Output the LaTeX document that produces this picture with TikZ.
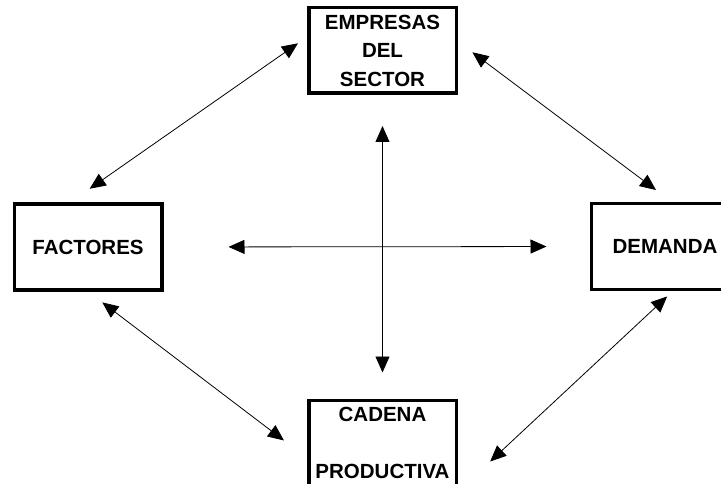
\documentclass[tikz,border=0pt]{standalone}
\usepackage{fontspec}
\setmainfont{Liberation Sans}
\usetikzlibrary{arrows.meta}

\begin{document}
\begin{tikzpicture}[<->,>={Triangle[length=16pt,width=14pt]},thick,x=1pt,y=-1pt,
    main box/.style={draw,line width=3.5pt,align=center,inner sep=0pt,minimum width=147.5pt,minimum height=85.5pt,font=\bfseries\fontsize{20.5}{28.5}\selectfont}]
            \useasboundingbox (0,0) rectangle (721,484);
            \clip (0,0) rectangle (721,484);

            \node[main box] (empresas) at (382.5,50.5) {EMPRESAS\\DEL\\SECTOR};
            \node[main box] (factores) at (88,247) {FACTORES};
            \node[main box] (demanda) at (665,246.5) {DEMANDA};
            \node[main box] (cadena) at (382.5,443) {CADENA\\ \\PRODUCTIVA};

            \draw[shorten <=24pt,shorten >=11pt] ([xshift=-18pt]factores.north) -- ([yshift=13.5pt]empresas.west);
            \draw[shorten <=18pt,shorten >=20pt] ([yshift=9pt]empresas.east) -- ([xshift=7pt]demanda.north);
            \draw[shorten <=18pt,shorten >=29pt] (factores.south) -- ([yshift=-15pt]cadena.west);
            \draw[shorten <=8pt,shorten >=44pt] ([xshift=8pt]demanda.south) -- ([yshift=-4pt]cadena.south east);
            \draw[shorten <=31pt,shorten >=26pt] (empresas.south) -- (cadena.north);
            \draw[shorten <=65pt,shorten >=43pt] (factores.east) -- (demanda.west);
        \end{tikzpicture}
\end{document}
